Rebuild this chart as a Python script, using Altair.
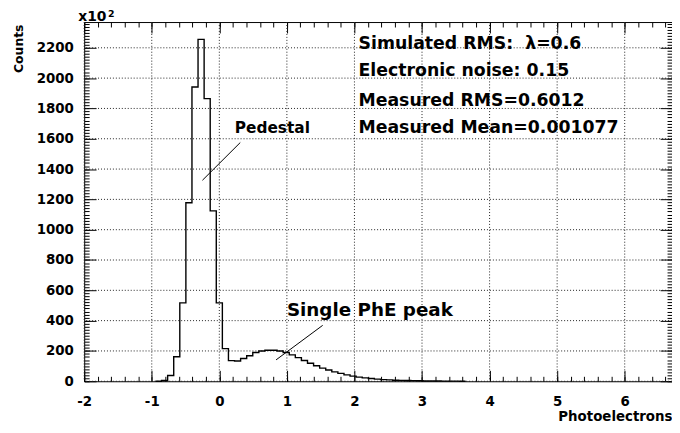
import altair as alt
import pandas as pd

# ---------------- data ----------------
BIN_WIDTH = 0.09          # bins are centred on multiples of 0.09
FIRST_BIN_INDEX = -10     # first listed bin is centred on -0.90
counts = [0, 5, 38, 162, 517, 1178, 1941, 2256, 1865, 1124,
          517, 215, 136, 134, 150, 168, 190, 200, 205, 205,
          200, 190, 174, 156, 137, 119, 102, 87, 74, 62,
          52, 42, 34, 27, 22, 18, 14, 11, 9, 7,
          6, 5, 4, 3, 2, 2, 2, 1, 1, 1, 0]

x_major = [-2, -1, 0, 1, 2, 3, 4, 5, 6]
x_minor = [round(-2 + 0.2 * i, 2) for i in range(44)]
y_major = [0, 200, 400, 600, 800, 1000, 1200, 1400, 1600, 1800, 2000, 2200]
y_minor = [20 * i for i in range(119)]

info_lines = ["Simulated RMS:\u00a0\u00a0\u03bb=0.6",
              "Electronic noise: 0.15",
              "Measured RMS=0.6012",
              "Measured Mean=0.001077"]
info_x = [2.06, 2.06, 2.06, 2.06]
info_y = [2228, 2044, 1848, 1673]

label_text = ["Pedestal", "Single PhE peak"]
label_x = [0.23, 1.0]
label_y = [1671, 470]
label_size = [15.5, 18.5]

pointer_x = [-0.25, 0.84]
pointer_y = [1326, 141]
pointer_x2 = [0.31, 1.53]
pointer_y2 = [1575, 369]

power_base = ["x10"]
power_exp = ["2"]

X_DOMAIN = [-2, 6.7]
Y_DOMAIN = [0, 2370]
W, H = 594, 363
FONT = "DejaVu Sans"

# ---------------- tables ----------------
edges = [(FIRST_BIN_INDEX + i - 0.5) * BIN_WIDTH for i in range(len(counts) + 1)]
hist_df = pd.DataFrame({"x": edges, "y": counts + [counts[-1]]})
info_df = pd.DataFrame({"x": info_x, "y": info_y, "t": info_lines})
label_df = pd.DataFrame({"x": label_x, "y": label_y, "t": label_text, "s": label_size})
pointer_df = pd.DataFrame({"x": pointer_x, "y": pointer_y, "x2": pointer_x2, "y2": pointer_y2})
xgrid_df = pd.DataFrame({"x": x_major})
ygrid_df = pd.DataFrame({"y": y_major})

xs = alt.Scale(domain=X_DOMAIN, nice=False, zero=False)
ys = alt.Scale(domain=Y_DOMAIN, nice=False, zero=False)

main_x_axis = alt.Axis(orient="bottom", values=x_major, grid=False, ticks=False,
                       tickSize=0, domain=False,
                       labelFont=FONT, labelFontWeight="bold", labelFontSize=13.5,
                       labelColor="black", labelPadding=14, labelFlush=False,
                       labelOverlap=False, labelExpr="'' + datum.value",
                       title="Photoelectrons", titleFont=FONT, titleFontWeight="bold",
                       titleFontSize=13.5, titleColor="black", titleAlign="right",
                       titleAnchor="end", titleX=W, titleY=40,
                       titleBaseline="alphabetic")
main_y_axis = alt.Axis(orient="left", values=y_major, format="d", grid=False,
                       ticks=False, tickSize=0, domain=False,
                       labelFont=FONT, labelFontWeight="bold", labelFontSize=13.5,
                       labelColor="black", labelPadding=11, labelFlush=False,
                       labelOverlap=False,
                       title="Counts", titleFont=FONT, titleFontWeight="bold",
                       titleFontSize=12.5, titleColor="black", titleAngle=270,
                       titleAlign="right", titleBaseline="middle",
                       titleX=-66, titleY=2)

# dotted grid
xgrid = alt.Chart(xgrid_df).mark_rule(color="#222", strokeWidth=1,
                                      strokeDash=[1, 2]).encode(
    x=alt.X("x:Q", scale=xs, axis=None))
ygrid = alt.Chart(ygrid_df).mark_rule(color="#222", strokeWidth=1,
                                      strokeDash=[1, 2]).encode(
    y=alt.Y("y:Q", scale=ys, axis=None))

main = alt.Chart(hist_df).mark_line(interpolate="step-after", color="black",
                                    strokeWidth=1.4).encode(
    x=alt.X("x:Q", scale=xs, axis=main_x_axis),
    y=alt.Y("y:Q", scale=ys, axis=main_y_axis),
)


def tick_axis(orient, offset, values, size):
    return alt.Axis(orient=orient, offset=offset, values=values, tickSize=size,
                    tickColor="black", tickWidth=1, labels=False, domain=False,
                    grid=False, title=None)


def tick_layer(xo, yo, xoff, yoff, xv, yv, xsz, ysz):
    return alt.Chart(hist_df).mark_point(opacity=0).encode(
        x=alt.X("x:Q", scale=xs, axis=tick_axis(xo, xoff, xv, xsz)),
        y=alt.Y("y:Q", scale=ys, axis=tick_axis(yo, yoff, yv, ysz)),
    )


# inward ticks on all four sides of the frame
t_bl_major = tick_layer("top", "right", -H, -W, x_major, y_major, 11, 12)
t_bl_minor = tick_layer("top", "right", -H, -W, x_minor, y_minor, 5, 5)
t_tr_major = tick_layer("bottom", "left", -H, -W, x_major, y_major, 11, 12)
t_tr_minor = tick_layer("bottom", "left", -H, -W, x_minor, y_minor, 5, 5)

pointers = alt.Chart(pointer_df).mark_rule(color="black", strokeWidth=1).encode(
    x=alt.X("x:Q", scale=xs, axis=None),
    y=alt.Y("y:Q", scale=ys, axis=None),
    x2="x2:Q", y2="y2:Q",
)

info = alt.Chart(info_df).mark_text(align="left", baseline="middle", font=FONT,
                                    fontWeight="bold", fontSize=17.5, color="black").encode(
    x=alt.X("x:Q", scale=xs, axis=None),
    y=alt.Y("y:Q", scale=ys, axis=None),
    text="t:N",
)

labels = alt.Chart(label_df).mark_text(align="left", baseline="middle", font=FONT,
                                       fontWeight="bold", color="black").encode(
    x=alt.X("x:Q", scale=xs, axis=None),
    y=alt.Y("y:Q", scale=ys, axis=None),
    text="t:N",
    size=alt.Size("s:Q", scale=None, legend=None),
)

pow_base = alt.Chart(pd.DataFrame({"t": power_base})).mark_text(
    align="left", baseline="alphabetic", font=FONT, fontWeight="bold",
    fontSize=14, color="black").encode(
    x=alt.value(-6), y=alt.value(-1), text="t:N")
pow_exp = alt.Chart(pd.DataFrame({"t": power_exp})).mark_text(
    align="left", baseline="alphabetic", font=FONT, fontWeight="bold",
    fontSize=9.5, color="black").encode(
    x=alt.value(24), y=alt.value(-5), text="t:N")

chart = alt.layer(
    xgrid, ygrid, main, t_bl_major, t_bl_minor, t_tr_major, t_tr_minor,
    pointers, info, labels, pow_base, pow_exp
).resolve_axis(x="independent", y="independent").properties(
    width=W, height=H,
    padding={"left": 77, "top": 12, "right": 0, "bottom": 41},
    autosize=alt.AutoSizeParams(type="none"),
    background="white",
).configure_view(stroke="black", strokeWidth=1)

chart.save("out.html", embed_options={"renderer": "svg", "actions": False})
